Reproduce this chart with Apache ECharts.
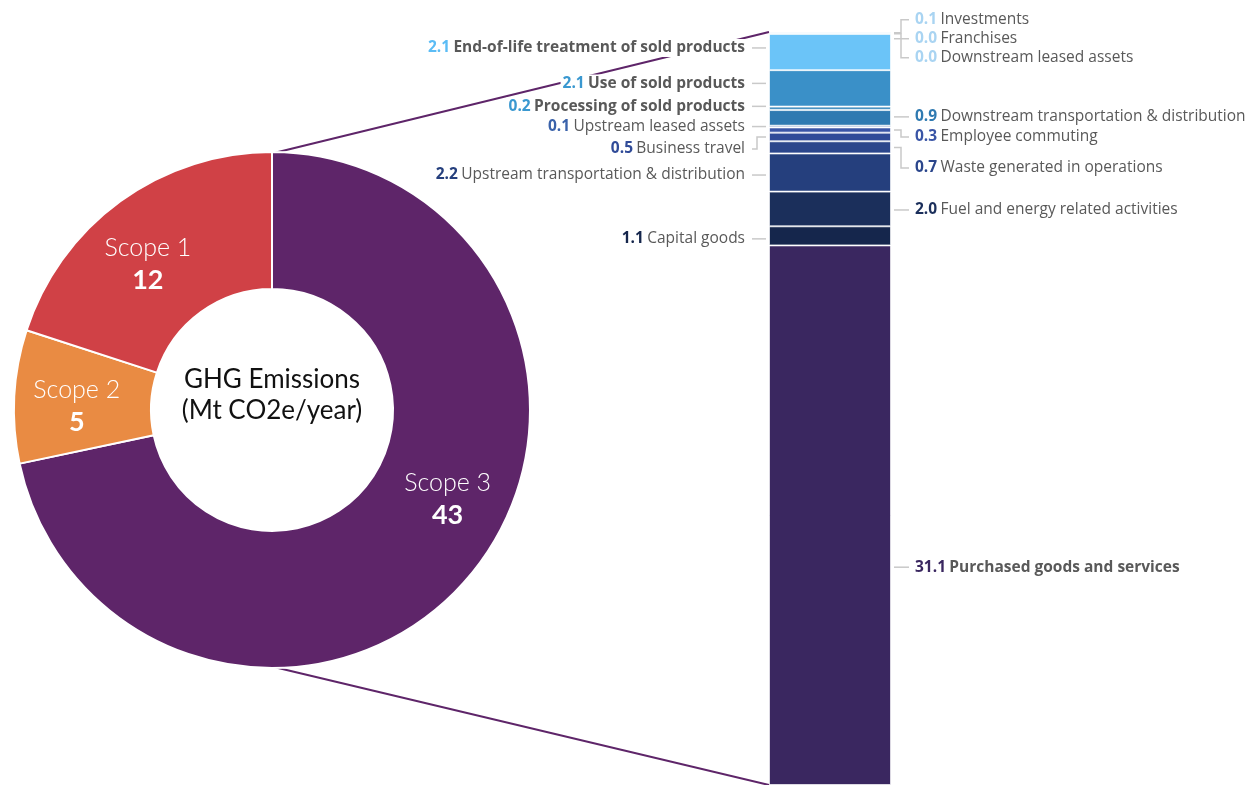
<!DOCTYPE html>
<html><head><meta charset="utf-8">
<script src="https://cdn.jsdelivr.net/npm/echarts@6/dist/echarts.min.js"></script>
<style>html,body{margin:0;padding:0;background:#fff}#c{width:1249px;height:785px}</style>
</head><body><div id="c"></div>
<script>
// ---- Data ----
const scopeNames = ['Scope 3', 'Scope 2', 'Scope 1'];
const scopeValues = [43, 5, 12];

const catNames = [
  'Purchased goods and services', 'Capital goods', 'Fuel and energy related activities',
  'Upstream transportation & distribution', 'Waste generated in operations', 'Business travel',
  'Employee commuting', 'Upstream leased assets', 'Downstream transportation & distribution',
  'Processing of sold products', 'Use of sold products', 'End-of-life treatment of sold products',
  'Downstream leased assets', 'Franchises', 'Investments'
];
const catValues = [31.1, 1.1, 2.0, 2.2, 0.7, 0.5, 0.3, 0.1, 0.9, 0.2, 2.1, 2.1, 0.0, 0.0, 0.1];

// ---- Styles / layout ----
const scopeColors = ['#5e2569', '#e98b43', '#d04146'];
const catColors = ['#3a2760', '#15264c', '#1b2f5b', '#253f7d', '#2b468c', '#304b98', '#3a55a6',
  '#3a5fa8', '#2f7ab1', '#4a93c2', '#3a90c8', '#6bc4f8', '#b8def7', '#b8def7', '#b8def7'];
const numColors = ['#3a2760', '#15264c', '#1b2f5b', '#253f7d', '#2b468c', '#304b98', '#3a55a6',
  '#3a62aa', '#2f7ab1', '#3a98d0', '#3a98d0', '#5bbcf5', '#a9d4f2', '#a9d4f2', '#a9d4f2'];
const catSide = ['right', 'left', 'right', 'left', 'right', 'left', 'right', 'left', 'right',
  'left', 'left', 'left', 'right', 'right', 'right'];
const catBold = [true, false, false, false, false, false, false, false, false, true, true, true, false, false, false];
const labelDy = [52, 3, 1, 2.5, 20.5, 12, 7, 0, -1, -2, -5, -4, 24, 5, -13];
const scopeLabelShift = [[26, -32], [-3, 6], [-11, 10]];

const PIE_C = [272, 410];
const PIE_R = [121, 258];
const FONT = '"Open Sans", Lato, sans-serif';
const PIE_FONT = 'Lato, sans-serif';
const LABEL_SIZE = 15.5;

const total = catValues.reduce((a, b) => a + b, 0);
const cumStart = [];
catValues.reduce((acc, v, i) => { cumStart[i] = acc; return acc + v; }, 0);

const chart = echarts.init(document.getElementById('c'), null, { renderer: 'canvas' });

const barSeries = catNames.map((n, i) => ({
  type: 'bar', name: n, stack: 's3', barWidth: '100%', z: 2,
  data: [catValues[i]],
  itemStyle: { color: catColors[i], borderColor: 'rgba(255,255,255,0.65)', borderWidth: 1 },
  silent: true
}));

const labelSeries = {
  type: 'custom', coordinateSystem: 'cartesian2d', z: 5, silent: true,
  data: catValues.map((v, i) => [0, cumStart[i] + v / 2, cumStart[i], cumStart[i] + v]),
  renderItem: function (params, api) {
    const i = params.dataIndex;
    const p = api.coord([0, api.value(1)]);
    const yBot = api.coord([0, api.value(2)])[1];
    const yTop = api.coord([0, api.value(3)])[1];
    const bw = api.size([1, 0])[0];
    const left = p[0] - bw / 2, right = p[0] + bw / 2;
    const y = p[1];
    const dy = labelDy[i];
    const ly = y + dy;
    const straight = Math.abs(dy) < 6 || (ly > yTop + 1 && ly < yBot - 1);
    let pts;
    if (catSide[i] === 'left') {
      pts = straight ? [[left - 3, ly], [left - 17, ly]]
        : [[left - 3, y], [left - 12, y], [left - 12, ly], [left - 17, ly]];
    } else {
      pts = straight ? [[right + 3, ly], [right + 18, ly]]
        : [[right + 3, y], [right + 10, y], [right + 10, ly], [right + 18, ly]];
    }
    const isLeft = catSide[i] === 'left';
    return {
      type: 'group',
      children: [
        { type: 'polyline', shape: { points: pts }, style: { stroke: '#c9c9c9', lineWidth: 1.5, fill: null } },
        {
          type: 'text', x: isLeft ? left - 24 : right + 22, y: ly,
          style: {
            text: '{v|' + catValues[i].toFixed(1) + '} {n|' + catNames[i] + '}',
            align: isLeft ? 'right' : 'left', verticalAlign: 'middle',
            backgroundColor: '#fff', padding: [1, 0, 1, 2],
            rich: {
              v: { fill: numColors[i], fontWeight: 'bold', fontSize: LABEL_SIZE, fontFamily: FONT },
              n: { fill: '#595959', fontWeight: catBold[i] ? 'bold' : 'normal', fontSize: LABEL_SIZE, fontFamily: FONT }
            }
          }
        }
      ]
    };
  }
};

const connectorSeries = {
  type: 'custom', coordinateSystem: 'cartesian2d', z: 1, silent: true,
  data: [[0, total, 0]],
  renderItem: function (params, api) {
    const top = api.coord([0, api.value(1)]);
    const bot = api.coord([0, api.value(2)]);
    const bw = api.size([1, 0])[0];
    const left = top[0] - bw / 2;
    return {
      type: 'group',
      children: [
        { type: 'line', shape: { x1: PIE_C[0] + 2, y1: PIE_C[1] - PIE_R[1] + 1, x2: left, y2: top[1] }, style: { stroke: '#5e2569', lineWidth: 2 } },
        { type: 'line', shape: { x1: PIE_C[0] + 2, y1: PIE_C[1] + PIE_R[1] - 1, x2: left, y2: bot[1] }, style: { stroke: '#5e2569', lineWidth: 2 } }
      ]
    };
  }
};

const option = {
  animation: false,
  backgroundColor: '#fff',
  grid: { left: 769, width: 122, top: 32, bottom: 0, containLabel: false },
  xAxis: { type: 'category', data: ['Scope 3'], show: false },
  yAxis: { type: 'value', min: 0, max: total, show: false },
  graphic: [{
    type: 'text', x: PIE_C[0], y: PIE_C[1] - 15, z: 10,
    style: {
      text: 'GHG Emissions\n(Mt CO2e/year)', align: 'center', verticalAlign: 'middle',
      fontSize: 26, lineHeight: 31, fill: '#111', fontFamily: PIE_FONT
    }
  }],
  series: [
    {
      type: 'pie', center: PIE_C, radius: PIE_R, startAngle: 90, clockwise: true, silent: true,
      z: 2,
      data: scopeNames.map((n, i) => ({ name: n, value: scopeValues[i], itemStyle: { color: scopeColors[i] } })),
      itemStyle: { borderColor: '#fff', borderWidth: 2 },
      label: {
        show: true, position: 'inside', formatter: '{s|{b}}\n{n|{c}}',
        rich: {
          s: { color: '#fff', fontSize: 25, fontFamily: PIE_FONT, fontWeight: 300, lineHeight: 32, align: 'center' },
          n: { color: '#fff', fontSize: 27, fontFamily: PIE_FONT, fontWeight: 'bold', lineHeight: 32, align: 'center' }
        }
      },
      labelLine: { show: false },
      labelLayout: function (params) {
        const s = scopeLabelShift[params.dataIndex];
        return { dx: s[0], dy: s[1] };
      },
      emphasis: { disabled: true }
    },
    connectorSeries
  ].concat(barSeries).concat([labelSeries])
};
chart.setOption(option);
</script>
</body></html>
